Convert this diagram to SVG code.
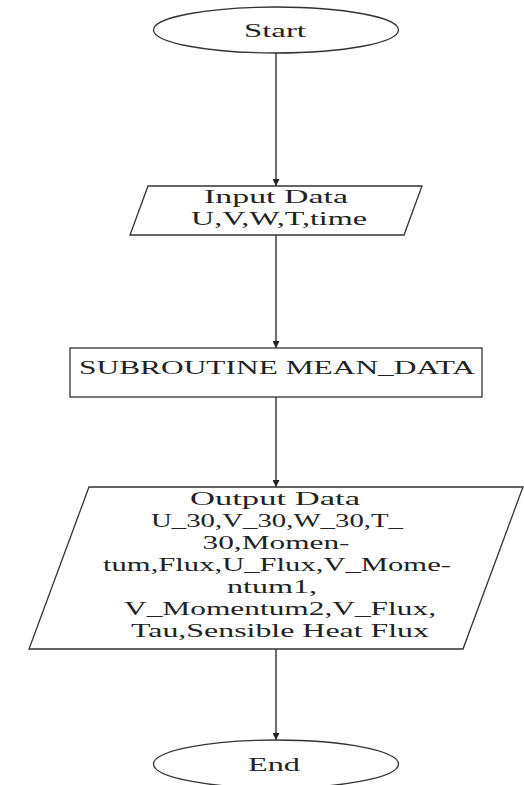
<svg xmlns="http://www.w3.org/2000/svg" width="524" height="785" viewBox="0 0 524 785">
<style>
.s{fill:#fff;stroke:#333;stroke-width:1.3}
.t{font-family:"Liberation Serif","Times New Roman",serif;font-size:19.5px;fill:#222;text-anchor:middle}
.c{stroke:#222;stroke-width:1.3;fill:none}
</style>
<defs>
<marker id="a" viewBox="0 0 10 10" refX="10" refY="5" markerWidth="8" markerHeight="7" markerUnits="userSpaceOnUse" orient="auto">
<path d="M0,0 L10,5 L0,10 z" fill="#222"/>
</marker>
</defs>
<rect width="524" height="785" fill="#fff"/>
<g id="connectors">
<line class="c" x1="276" y1="53" x2="276" y2="186" marker-end="url(#a)"/>
<line class="c" x1="276" y1="235" x2="276" y2="348" marker-end="url(#a)"/>
<line class="c" x1="276" y1="397" x2="276" y2="487" marker-end="url(#a)"/>
<line class="c" x1="276" y1="649" x2="276" y2="740" marker-end="url(#a)"/>
</g>
<g id="start">
<ellipse class="s" cx="276" cy="30" rx="122.5" ry="23"/>
<text class="t" x="275" y="37" textLength="62" lengthAdjust="spacingAndGlyphs">Start</text>
</g>
<g id="input">
<polygon class="s" points="148,186 422,186 404,235 130,235"/>
<text class="t" x="276" y="203" textLength="144" lengthAdjust="spacingAndGlyphs">Input Data</text>
<text class="t" x="279" y="225" textLength="176" lengthAdjust="spacingAndGlyphs">U,V,W,T,time</text>
</g>
<g id="subroutine">
<rect class="s" x="70" y="348" width="412" height="49"/>
<text class="t" x="277" y="374" textLength="396" lengthAdjust="spacingAndGlyphs">SUBROUTINE MEAN_DATA</text>
</g>
<g id="output">
<polygon class="s" points="89,487 523,487 463,649 29,649"/>
<text class="t" x="275" y="505" textLength="170" lengthAdjust="spacingAndGlyphs">Output Data</text>
<text class="t" x="277" y="527" textLength="252" lengthAdjust="spacingAndGlyphs">U_30,V_30,W_30,T_</text>
<text class="t" x="276" y="549" textLength="147" lengthAdjust="spacingAndGlyphs">30,Momen-</text>
<text class="t" x="277" y="571" textLength="348" lengthAdjust="spacingAndGlyphs">tum,Flux,U_Flux,V_Mome-</text>
<text class="t" x="272" y="593" textLength="90" lengthAdjust="spacingAndGlyphs">ntum1,</text>
<text class="t" x="280" y="615" textLength="312" lengthAdjust="spacingAndGlyphs">V_Momentum2,V_Flux,</text>
<text class="t" x="280" y="637" textLength="298" lengthAdjust="spacingAndGlyphs">Tau,Sensible Heat Flux</text>
</g>
<g id="end">
<ellipse class="s" cx="276" cy="764" rx="122.5" ry="24"/>
<text class="t" x="274" y="771" textLength="52" lengthAdjust="spacingAndGlyphs">End</text>
</g>
</svg>
